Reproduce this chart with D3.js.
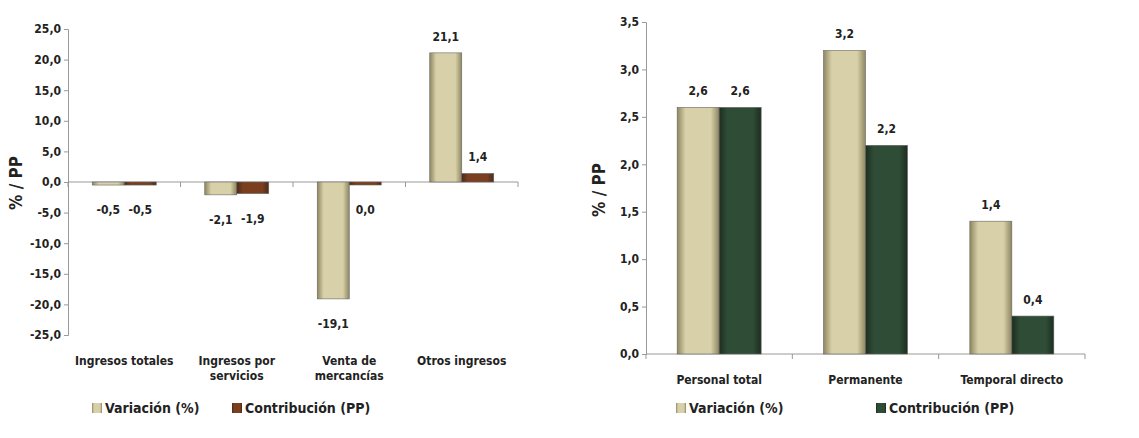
<!DOCTYPE html>
<html><head><meta charset="utf-8">
<script src="https://cdn.jsdelivr.net/npm/d3@7"></script>
<style>
body{margin:0;background:#fff;}
text{font-family:"DejaVu Sans Condensed","Liberation Sans Narrow",sans-serif;font-weight:bold;fill:#222;}
</style></head><body>
<svg id="chart" width="1139" height="438"></svg>
<script>
const leftCategories = [["Ingresos totales"], ["Ingresos por", "servicios"], ["Venta de", "mercancías"], ["Otros ingresos"]];
const leftVariacion = [-0.5, -2.1, -19.1, 21.1];
const leftContribucion = [-0.5, -1.9, 0.0, 1.4];
const leftTicks = [25, 20, 15, 10, 5, 0, -5, -10, -15, -20, -25];

const rightCategories = [["Personal total"], ["Permanente"], ["Temporal directo"]];
const rightVariacion = [2.6, 3.2, 1.4];
const rightContribucion = [2.6, 2.2, 0.4];
const rightTicks = [0, 0.5, 1, 1.5, 2, 2.5, 3, 3.5];

const fmt = v => v.toFixed(1).replace(".", ",");
const svg = d3.select("#chart");

const defs = svg.append("defs");
function grad(id, light, dark) {
  let g = defs.append("linearGradient").attr("id", id);
  g.append("stop").attr("offset", "0%").attr("stop-color", dark);
  g.append("stop").attr("offset", "20%").attr("stop-color", light);
  g.append("stop").attr("offset", "80%").attr("stop-color", light);
  g.append("stop").attr("offset", "100%").attr("stop-color", dark);
}
grad("gBeige", "#d8d0a8", "#8d8660");
grad("gBrown", "#7b3f20", "#4a2a1a");
grad("gGreen", "#2f4d36", "#1c2e20");

function drawChart(cfg) {
  const g = svg.append("g");
  const x = d3.scaleBand().domain(d3.range(cfg.cats.length)).range([cfg.x0, cfg.x1]);
  const y = d3.scaleLinear().domain(cfg.domain).range([cfg.yBottom, cfg.yTop]);

  // y axis
  const ya = g.append("g").attr("transform", `translate(${cfg.x0},0)`)
    .call(d3.axisLeft(y).tickValues(cfg.ticks).tickFormat(fmt).tickSize(4));
  ya.select(".domain").attr("stroke", "#999");
  ya.selectAll(".tick line").attr("stroke", "#999");
  ya.selectAll("text").attr("font-size", 12).style("fill", "#222");

  // category axis at zero
  const y0 = y(0);
  g.append("line").attr("x1", cfg.x0).attr("x2", cfg.x1).attr("y1", y0).attr("y2", y0).attr("stroke", "#999");
  g.selectAll(".ct").data(d3.range(cfg.cats.length + 1)).enter().append("line")
    .attr("x1", i => cfg.x0 + i * x.step()).attr("x2", i => cfg.x0 + i * x.step())
    .attr("y1", y0).attr("y2", y0 + 5).attr("stroke", "#999");

  const bw = cfg.bw;
  const series = [
    {vals: cfg.v1, fill: "url(#gBeige)", off: -bw},
    {vals: cfg.v2, fill: cfg.fill2, off: 0}
  ];
  series.forEach(s => {
    g.selectAll(null).data(s.vals).enter().append("rect")
      .attr("x", (d, i) => x(i) + x.bandwidth() / 2 + s.off)
      .attr("y", d => Math.min(y(d), y0))
      .attr("width", bw)
      .attr("height", d => Math.max(Math.abs(y(d) - y0), 3))
      .attr("fill", s.fill).attr("stroke", "#666").attr("stroke-width", 0.6);
    g.selectAll(null).data(s.vals).enter().append("text")
      .attr("x", (d, i) => x(i) + x.bandwidth() / 2 + s.off + bw / 2)
      .attr("y", d => d > 0.05 ? y(d) - 12 : Math.max(y(d), y0 + 3) + 29)
      .attr("text-anchor", "middle").attr("font-size", 12).text(fmt);
  });

  // category labels
  cfg.cats.forEach((lines, i) => {
    lines.forEach((l, j) => {
      g.append("text").attr("x", x(i) + x.bandwidth() / 2).attr("y", cfg.labelY + j * 15)
        .attr("text-anchor", "middle").attr("font-size", 12).text(l);
    });
  });

  // y title
  g.append("text").attr("transform", `translate(${cfg.titleX},${cfg.titleY}) rotate(-90)`)
    .attr("text-anchor", "middle").attr("font-size", 17).text("% / PP");

  // legend
  [["Variación (%)", "url(#gBeige)", cfg.leg[0]], ["Contribución (PP)", cfg.fill2, cfg.leg[1]]].forEach(l => {
    g.append("rect").attr("x", l[2]).attr("y", 403).attr("width", 10).attr("height", 10).attr("fill", l[1]);
    g.append("text").attr("x", l[2] + 13).attr("y", 413).attr("font-size", 14).text(l[0]);
  });
}

drawChart({cats: leftCategories, v1: leftVariacion, v2: leftContribucion, ticks: leftTicks,
  domain: [-25, 25], x0: 68, x1: 518, yTop: 29, yBottom: 335, bw: 32, fill2: "url(#gBrown)",
  labelY: 365, titleX: 22, titleY: 183, leg: [92, 232]});
drawChart({cats: rightCategories, v1: rightVariacion, v2: rightContribucion, ticks: rightTicks,
  domain: [0, 3.5], x0: 646, x1: 1085, yTop: 22, yBottom: 354, bw: 42, fill2: "url(#gGreen)",
  labelY: 384, titleX: 605, titleY: 190, leg: [676, 876]});
</script>
</body></html>
